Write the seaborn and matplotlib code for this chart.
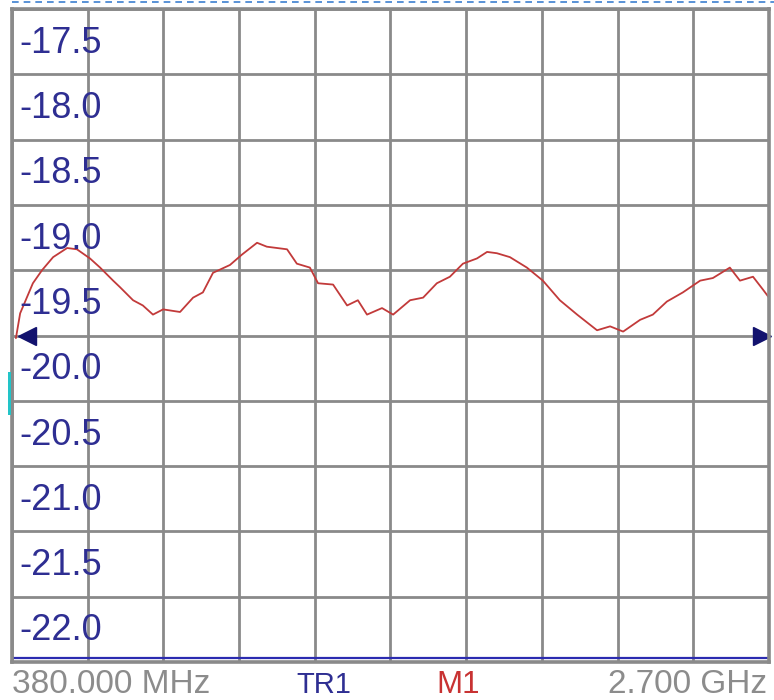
import matplotlib
matplotlib.use("Agg")
import matplotlib.pyplot as plt
import matplotlib.transforms as mtransforms
from matplotlib.lines import Line2D
from matplotlib.patches import Rectangle
import seaborn as sns
import pandas as pd

# trace: frequency (MHz) vs return level (dB)
freq_mhz = [392, 405, 444, 472, 506, 549, 579, 619, 650, 690, 711, 751, 781, 812,
            843, 895, 935, 965, 996, 1048, 1085, 1131, 1161, 1223, 1253, 1293, 1318,
            1364, 1407, 1440, 1468, 1514, 1548, 1600, 1640, 1682, 1722, 1762, 1805,
            1836, 1866, 1906, 1958, 2007, 2059, 2112, 2173, 2213, 2253, 2305, 2344,
            2387, 2436, 2489, 2528, 2580, 2611, 2651, 2682, 2700]
level_db = [-20.02, -19.83, -19.60, -19.50, -19.40, -19.33, -19.34, -19.41, -19.48,
            -19.58, -19.63, -19.73, -19.77, -19.84, -19.80, -19.82, -19.71, -19.67,
            -19.52, -19.46, -19.38, -19.29, -19.32, -19.34, -19.45, -19.48, -19.60,
            -19.61, -19.77, -19.73, -19.84, -19.79, -19.84, -19.73, -19.71, -19.60,
            -19.55, -19.45, -19.41, -19.36, -19.37, -19.40, -19.48, -19.58, -19.73,
            -19.84, -19.96, -19.93, -19.97, -19.88, -19.84, -19.74, -19.67, -19.58,
            -19.56, -19.48, -19.58, -19.55, -19.65, -19.71]

y_labels = ["-17.5", "-18.0", "-18.5", "-19.0", "-19.5",
            "-20.0", "-20.5", "-21.0", "-21.5", "-22.0"]
y_top, y_bottom = -17.5, -22.5
f_start, f_stop = 380, 2700
ref_level = -20.0
start_label = "380.000 MHz"
stop_label = "2.700 GHz"

sns.set_style("white")
plt.rcParams['font.family'] = ['Liberation Sans', 'DejaVu Sans']

df = pd.DataFrame({"freq": freq_mhz, "db": level_db})

fig = plt.figure(figsize=(7.74, 7.0), dpi=100)
ax = fig.add_axes([12 / 774, 1 - 662 / 700, 757 / 774, 653 / 700])

grid_col = "#8a8a8a"
label_col = "#2e2e92"

# graticule: 10 x 10 divisions
step_f = (f_stop - f_start) / 10
ax.set_xticks([f_start + k * step_f for k in range(11)])
ax.set_yticks([y_top - k * 0.5 for k in range(11)])
ax.set_xticklabels([])
ax.set_yticklabels([])
ax.tick_params(length=0)
ax.grid(True, color=grid_col, linewidth=2.0)
ax.set_xlim(f_start, f_stop)
ax.set_ylim(y_bottom, y_top)

for s in ax.spines.values():
    s.set_color(grid_col)
    s.set_linewidth(2.6)

sns.lineplot(data=df, x="freq", y="db", color="#c23a3a", linewidth=1.3, ax=ax)
ax.set_xlabel("")
ax.set_ylabel("")

# blue line along the bottom of the graticule
ax.plot([0, 1], [0.006, 0.006], transform=ax.transAxes, color="#2b2bb0",
        linewidth=1.6, clip_on=False)

# reference level markers
blend = mtransforms.blended_transform_factory(ax.transAxes, ax.transData)
ax.plot([0.0195], [ref_level], marker="<", markersize=13, color="#12126e",
        transform=blend, clip_on=False, linestyle="none")
ax.plot([0.991], [ref_level], marker=">", markersize=13, color="#12126e",
        transform=blend, clip_on=False, linestyle="none")

# y labels sit inside the graticule, in the cell below their line
for k, lab in enumerate(y_labels):
    ax.text(0.0092, y_top - k * 0.5 - 0.335, lab, transform=blend, fontsize=26,
            color=label_col, va="baseline", ha="left")

# bottom annotations
base = 1 - 693 / 700
fig.text(12 / 774, base, start_label, fontsize=24, color="#8c8c8c",
         va="baseline", ha="left")
fig.text(296 / 774, base, "TR1", fontsize=21, color=label_col,
         va="baseline", ha="left")
fig.text(436 / 774, base, "M1", fontsize=22.5, color="#c83232",
         va="baseline", ha="left")
fig.text(767 / 774, base, stop_label, fontsize=24, color="#8c8c8c",
         va="baseline", ha="right")

# screen-capture artefacts
fig.add_artist(Line2D([12 / 774, 1], [1 - 2 / 700, 1 - 2 / 700], color="#3c7fd0",
                      linewidth=1.2, linestyle=(0, (4, 3))))
fig.add_artist(Rectangle((8 / 774, 1 - 415 / 700), 3 / 774, 43 / 700,
                         color="#22c4c8", linewidth=0))

fig.savefig("out.png", dpi=100)
